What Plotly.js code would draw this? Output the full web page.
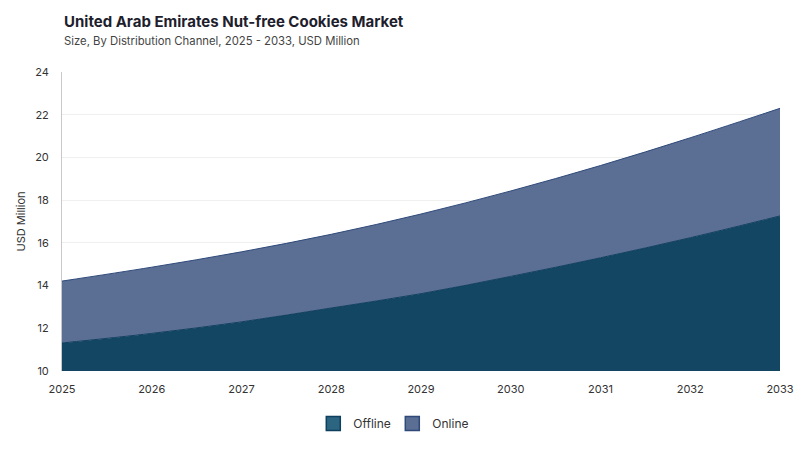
<!DOCTYPE html>
<html>
<head>
<meta charset="utf-8">
<script src="https://cdn.plot.ly/plotly-3.0.1.min.js"></script>
<style>body{margin:0;background:#fff;}#chart{width:800px;height:450px;}</style>
</head>
<body>
<div id="chart"></div>
<script>
const years = [2025, 2026, 2027, 2028, 2029, 2030, 2031, 2032, 2033];
const offline = [11.31, 11.76, 12.30, 12.95, 13.62, 14.43, 15.30, 16.24, 17.26];
const online = [2.90, 3.10, 3.28, 3.45, 3.73, 4.00, 4.32, 4.68, 5.04];
const yTicks = [10, 12, 14, 16, 18, 20, 22, 24];
const titleText = 'United Arab Emirates Nut-free Cookies Market';
const subtitleText = 'Size, By Distribution Channel, 2025 - 2033, USD Million';

const font = "Inter, 'Open Sans', sans-serif";
const offFill = '#124663', offLine = '#0f3f5e';
const onFill = '#5b6e93', onLine = '#2f4a7a';

const traces = [
  {
    x: years, y: offline, name: 'Offline', type: 'scatter', mode: 'lines',
    stackgroup: 'one', showlegend: false,
    line: {color: offLine, width: 1, shape: 'spline'},
    fillcolor: offFill
  },
  {
    x: years, y: online, name: 'Online', type: 'scatter', mode: 'lines',
    stackgroup: 'one', showlegend: false,
    line: {color: onLine, width: 1, shape: 'spline'},
    fillcolor: onFill
  },
  {
    x: [null], y: [null], name: 'Offline', type: 'scatter', mode: 'markers',
    marker: {symbol: 'square', size: 14, color: '#2b6580', line: {color: offLine, width: 1.5}}
  },
  {
    x: [null], y: [null], name: 'Online', type: 'scatter', mode: 'markers',
    marker: {symbol: 'square', size: 14, color: onFill, line: {color: onLine, width: 1.5}}
  }
];

const layout = {
  width: 800, height: 450,
  paper_bgcolor: '#ffffff', plot_bgcolor: '#ffffff',
  margin: {l: 62, r: 20, t: 72, b: 79, autoexpand: false},
  font: {family: font, size: 12, color: '#333333'},
  annotations: [
    {text: '<b>' + titleText + '</b>', xref: 'paper', yref: 'paper', x: 0, y: 1, xanchor: 'left', yanchor: 'middle',
     yshift: 51, showarrow: false, font: {family: font, size: 15, color: '#1e1e2d'}},
    {text: subtitleText, xref: 'paper', yref: 'paper', x: 0, y: 1, xanchor: 'left', yanchor: 'middle',
     yshift: 31, showarrow: false, font: {family: font, size: 11.3, color: '#444444'}}
  ],
  xaxis: {
    range: [2025, 2033],
    tickmode: 'array', tickvals: years, ticktext: years.map(String),
    showgrid: false, zeroline: false, showline: false,
    ticks: 'outside', ticklen: 8, tickcolor: 'rgba(0,0,0,0)',
    tickfont: {size: 11, color: '#333333'}
  },
  yaxis: {
    range: [10, 24],
    tickmode: 'array', tickvals: yTicks, ticktext: yTicks.map(String),
    showgrid: true, gridcolor: '#efefef', gridwidth: 1,
    zeroline: false, showline: true, linecolor: '#c8c8c8', linewidth: 1,
    ticks: 'outside', ticklen: 10, tickcolor: 'rgba(0,0,0,0)',
    tickfont: {size: 11, color: '#333333'},
    title: {text: 'USD Million', font: {size: 11, color: '#333333'}, standoff: 7}
  },
  legend: {
    orientation: 'h', x: 0.35, xanchor: 'left', y: -0.127, yanchor: 'top',
    font: {size: 12, color: '#333333'}, traceorder: 'normal',
    itemwidth: 30, entrywidth: 34, entrywidthmode: 'pixels'
  },
  showlegend: true
};

Plotly.newPlot('chart', traces, layout, {displayModeBar: false, staticPlot: true});
</script>
</body>
</html>
